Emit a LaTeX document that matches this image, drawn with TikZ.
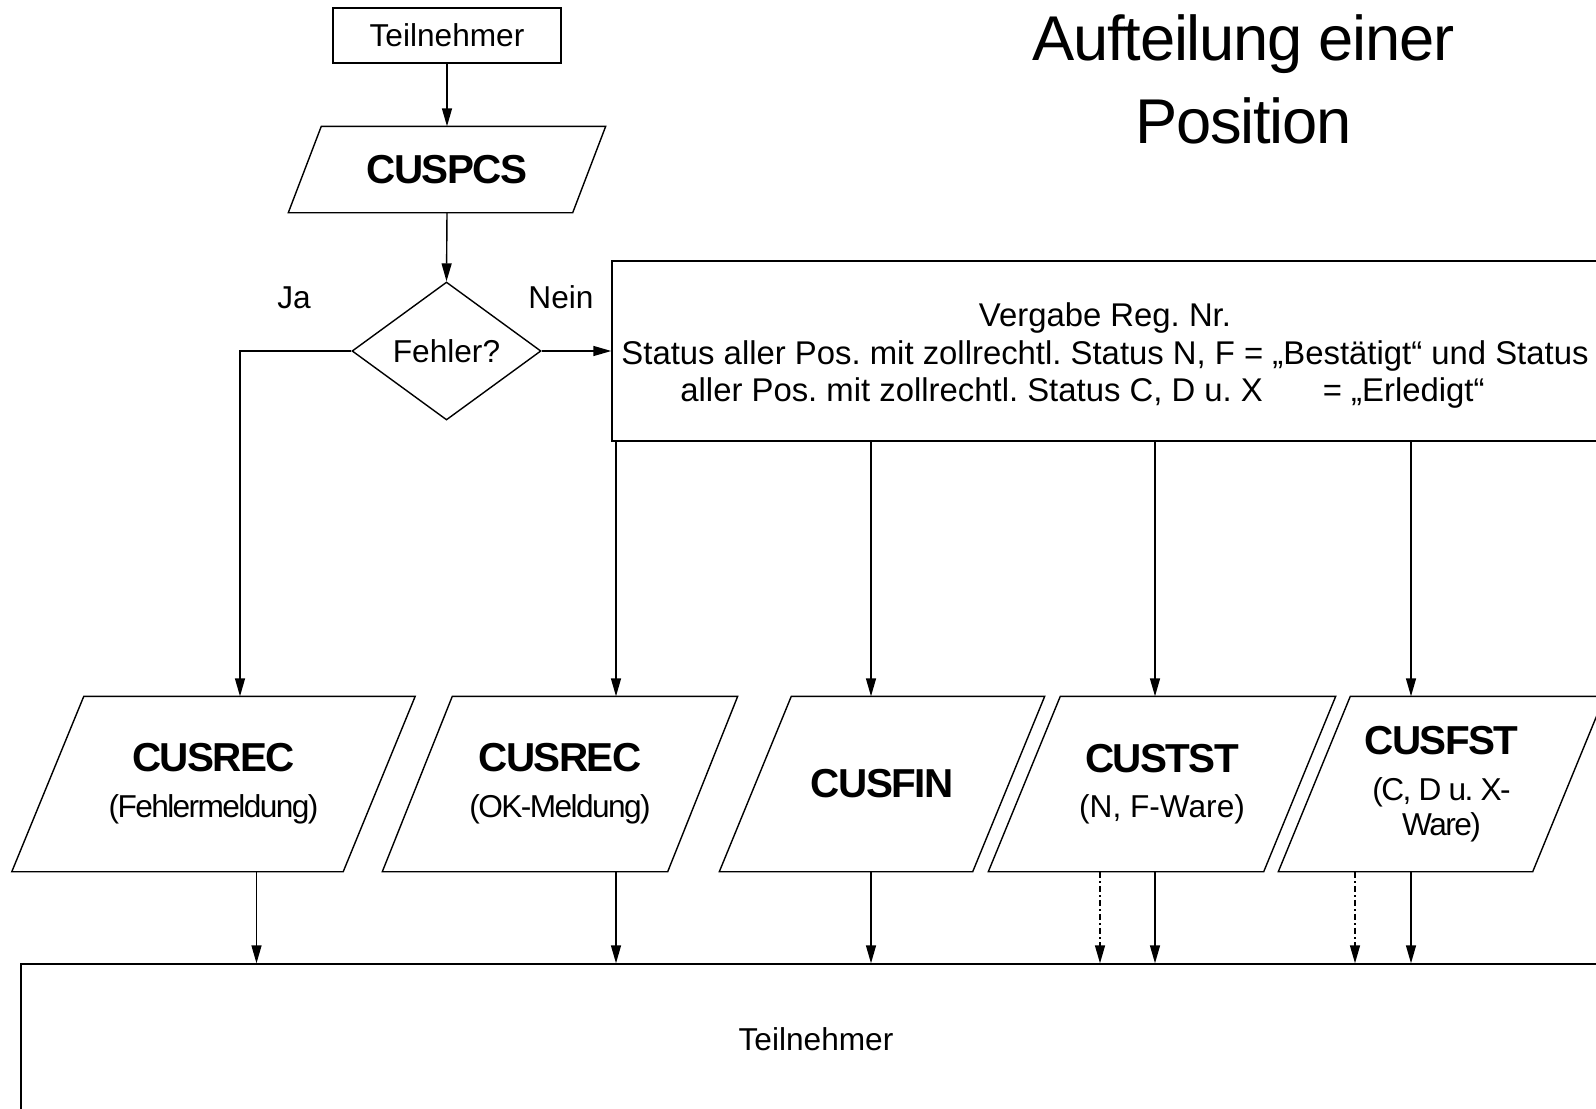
\documentclass[tikz,border=0pt]{standalone}
\usepackage{fontspec}
\setmainfont{Liberation Sans}
\usetikzlibrary{shapes.geometric}
\usetikzlibrary{arrows.meta}

\newcommand{\prog}[1]{{\fontsize{11.5}{13}\selectfont\bfseries\addfontfeatures{LetterSpace=-4}#1}}
\newcommand{\tight}{\addfontfeatures{LetterSpace=-5}}
\frenchspacing

\tikzset{
  txt/.style={font=\fontsize{9}{10}\selectfont, inner sep=0pt},
  box/.style={draw, rectangle, inner sep=0pt},
  iobox/.style={txt, align=center, minimum height=1.74cm},
  arr/.style={-{Triangle[length=1.8mm,width=1mm]}},
  dotarr/.style={arr, dash pattern=on 1.8pt off 0.9pt on 0.4pt off 0.9pt}
}

\begin{document}
\begin{tikzpicture}
  \useasboundingbox (0,0) rectangle (15.96,-11.08);
  \clip (0,0) rectangle (15.96,-11.08);

  % Title
  \node[align=center, inner sep=0pt, font=\fontsize{18}{23.6}\selectfont\addfontfeatures{LetterSpace=-2}] (title) at (12.435,-0.795) {Aufteilung einer\\Position};

  % Input and check
  \node[box, txt, minimum width=2.28cm, minimum height=0.55cm] (teiln) at (4.47,-0.355) {Teilnehmer};
  \node[txt, minimum width=2.83cm, minimum height=0.85cm] (cuspcs) at (4.47,-1.695) {\prog{CUSPCS}};
  \node[draw, diamond, txt, minimum width=1.89cm, minimum height=1.38cm] (fehler) at (4.465,-3.51) {Fehler?};
  \node[txt] (ja) at (2.94,-2.98) {Ja};
  \node[txt] (nein) at (5.61,-2.97) {Nein};

  % Processing box
  \node[box, minimum width=10.28cm, minimum height=1.80cm] (vergabe) at (11.26,-3.51) {};
  \node[align=center, inner sep=0pt, font=\fontsize{9.35}{10.7}\selectfont] (vergtxt) at (11.05,-3.555)
    {Vergabe Reg. Nr.\\Status aller Pos. mit zollrechtl. Status N, F = „Bestätigt“ und Status\\aller Pos. mit zollrechtl. Status C, D u. X\hspace{0.6cm}= „Erledigt“\hspace*{0.45cm}};

  % Messages
  \node[iobox, minimum width=3.30cm] (recerr) at (2.135,-7.84) {\prog{CUSREC}\\[3pt]{\tight (Fehlermeldung)}};
  \node[iobox, minimum width=2.84cm] (recok) at (5.60,-7.84) {\prog{CUSREC}\\[3pt]{\tight (OK-Meldung)}};
  \node[iobox, minimum width=2.52cm] (fin) at (8.82,-7.84) {\prog{CUSFIN}};
  \node[iobox, minimum width=2.74cm] (tst) at (11.62,-7.84) {\prog{CUSTST}\\[3pt](N, F-Ware)};
  \node[iobox, minimum width=2.53cm] (fst) at (14.415,-7.84) {\prog{CUSFST}\\[3pt]{\tight (C, D u. X-}\\{\tight Ware)}};

  % Receiver
  \node[box, minimum width=16.19cm, minimum height=1.76cm] (teilnb) at (8.305,-10.52) {};
  \node[txt] (teilnbtxt) at (8.16,-10.39) {Teilnehmer};

  % Parallelograms
  \foreach \n/\s in {cuspcs/1.65mm, recerr/3.6mm, recok/3.5mm, fin/3.6mm, tst/3.6mm, fst/3.6mm}
    \draw ([xshift=\s]\n.north west) -- ([xshift=\s]\n.north east)
      -- ([xshift=-\s]\n.south east) -- ([xshift=-\s]\n.south west) -- cycle;

  % Connectors
  \draw[arr] (teiln.south) -- (cuspcs.north);
  \draw[arr] (cuspcs.south) -- (fehler.north);
  \draw[arr] (fehler.east) -- (vergabe.west);
  \draw[arr] (fehler.west) -| ([xshift=2.65mm]recerr.north);
  \foreach \n/\d in {recok/5.6mm, fin/-1.1mm, tst/-0.7mm, fst/-3.05mm}
    \draw[arr] ([xshift=\d]\n.north |- vergabe.south) -- ([xshift=\d]\n.north);
  \foreach \n/\d in {recerr/4.3mm, recok/5.6mm, fin/-1.1mm, tst/-0.7mm, fst/-3.05mm}
    \draw[arr] ([xshift=\d]\n.south) -- ([xshift=\d]\n.south |- teilnb.north);
  \foreach \n/\d in {tst/-6.2mm, fst/-8.65mm}
    \draw[dotarr] ([xshift=\d]\n.south) -- ([xshift=\d]\n.south |- teilnb.north);
\end{tikzpicture}
\end{document}
